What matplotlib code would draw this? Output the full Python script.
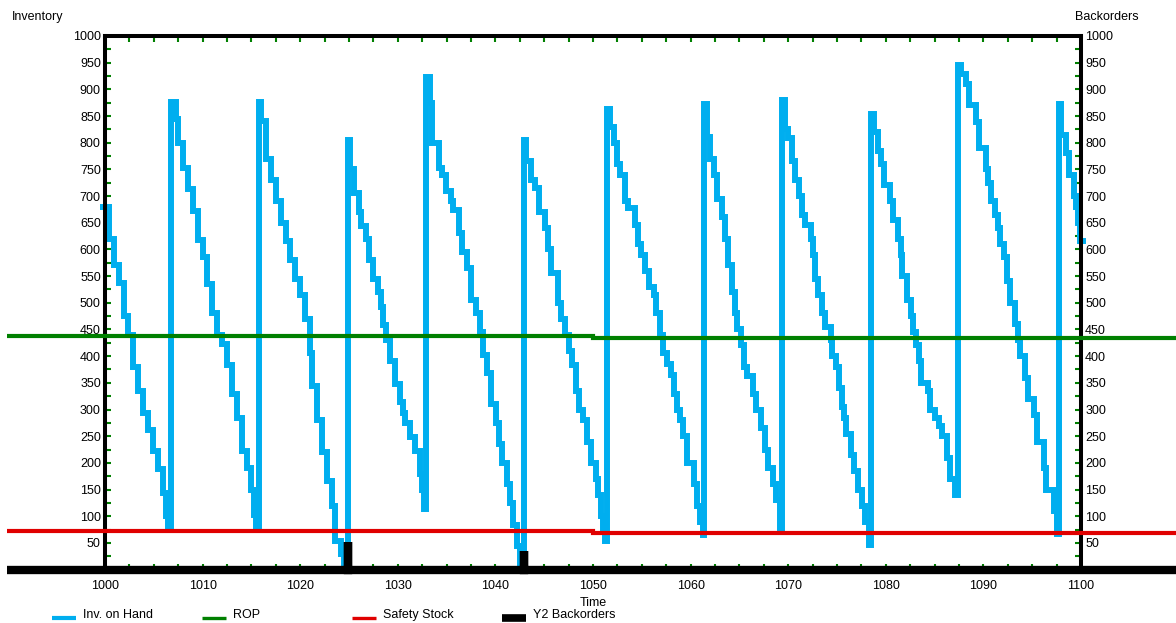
import matplotlib.pyplot as plt
import numpy as np
from matplotlib.lines import Line2D
from matplotlib.ticker import MultipleLocator

#====Data====
inv_time = [999.5, 1000.4, 1000.9, 1001.4, 1001.9, 1002.4, 1002.9, 1003.4, 1003.9, 1004.4, 1004.9, 1005.4, 1005.9, 1006.25, 1006.5,
            1006.75, 1007.25, 1007.5, 1008.0, 1008.5, 1009.0, 1009.5, 1010.0, 1010.5, 1011.0, 1011.5, 1012.0, 1012.5, 1013.0, 1013.5, 1014.0, 1014.5, 1015.0, 1015.25, 1015.5,
            1015.75, 1016.0, 1016.5, 1017.0, 1017.5, 1018.0, 1018.5, 1019.0, 1019.5, 1020.0, 1020.5, 1021.0, 1021.25, 1021.75, 1022.25, 1022.75, 1023.25, 1023.6, 1024.2, 1024.5,
            1024.87, 1025.1, 1025.5, 1026.0, 1026.25, 1026.75, 1027.0, 1027.5, 1028.0, 1028.25, 1028.5, 1028.75, 1029.25, 1029.75, 1030.25, 1030.5, 1030.75, 1031.25, 1031.75, 1032.25, 1032.5, 1032.7,
            1032.85, 1033.25, 1033.5, 1034.2, 1034.5, 1034.9, 1035.4, 1035.7, 1036.3, 1036.6, 1037.1, 1037.5, 1038.05, 1038.4, 1038.7, 1039.1, 1039.5, 1040.1, 1040.4, 1040.7, 1041.2, 1041.5, 1041.8, 1042.25, 1042.5,
            1042.9, 1043.1, 1043.6, 1044.1, 1044.5, 1045.1, 1045.4, 1045.7, 1046.4, 1046.7, 1047.1, 1047.5, 1047.8, 1048.3, 1048.6, 1049.0, 1049.4, 1049.8, 1050.3, 1050.5, 1050.8, 1051.0, 1051.2,
            1051.44, 1051.7, 1052.15, 1052.5, 1052.8, 1053.3, 1053.6, 1054.3, 1054.6, 1054.9, 1055.3, 1055.7, 1056.2, 1056.5, 1056.9, 1057.2, 1057.6, 1058.0, 1058.3, 1058.6, 1058.9, 1059.25, 1059.6, 1060.3, 1060.7, 1061.0, 1061.25,
            1061.41, 1061.7, 1062.0, 1062.4, 1062.75, 1063.2, 1063.5, 1063.8, 1064.2, 1064.5, 1064.8, 1065.2, 1065.5, 1065.8, 1066.4, 1066.75, 1067.2, 1067.6, 1067.9, 1068.4, 1068.75, 1069.2,
            1069.37, 1069.7, 1070.0, 1070.35, 1070.7, 1071.1, 1071.45, 1071.7, 1072.35, 1072.5, 1072.75, 1073.1, 1073.5, 1073.75, 1074.35, 1074.5, 1074.85, 1075.2, 1075.5, 1075.7, 1075.9, 1076.45, 1076.75, 1077.2, 1077.6, 1077.85, 1078.3,
            1078.49, 1078.75, 1079.15, 1079.5, 1079.8, 1080.4, 1080.75, 1081.2, 1081.55, 1081.7, 1082.2, 1082.55, 1082.8, 1083.1, 1083.4, 1083.6, 1084.3, 1084.5, 1085.0, 1085.5, 1085.75, 1086.3, 1086.55, 1087.1,
            1087.4, 1087.7, 1088.2, 1088.5, 1089.2, 1089.6, 1090.3, 1090.5, 1090.8, 1091.2, 1091.5, 1091.75, 1092.15, 1092.4, 1092.75, 1093.2, 1093.5, 1093.8, 1094.3, 1094.6, 1095.15, 1095.5, 1096.2, 1096.45, 1097.2, 1097.5,
            1097.7, 1098.0, 1098.5, 1098.8, 1099.25, 1099.5, 1099.7, 1099.9, 1100.5]
inv_on_hand = [680, 620, 571, 538, 476, 439, 380, 334, 294, 261, 222, 189, 143, 100, 77,
               877, 845, 800, 752, 713, 672, 617, 585, 535, 480, 439, 423, 383, 330, 285, 222, 190, 150, 103, 77,
               877, 840, 770, 730, 690, 650, 615, 580, 545, 515, 470, 406, 345, 281, 220, 166, 120, 54, 30, 0,
               805, 750, 705, 670, 643, 620, 580, 545, 520, 492, 459, 430, 390, 347, 314, 294, 275, 248, 222, 180, 150, 113,
               923, 875, 800, 752, 740, 709, 690, 673, 630, 595, 565, 505, 480, 446, 403, 368, 310, 275, 235, 200, 160, 125, 84, 44, 8,
               805, 765, 730, 715, 670, 640, 600, 555, 500, 470, 440, 410, 383, 335, 300, 280, 240, 200, 170, 140, 100, 77, 54,
               864, 830, 800, 760, 740, 690, 678, 645, 610, 590, 560, 530, 515, 480, 440, 405, 385, 365, 330, 300, 280, 250, 199, 160, 120, 90, 64,
               872, 810, 770, 740, 695, 660, 620, 570, 520, 480, 450, 420, 380, 362, 330, 300, 265, 225, 190, 160, 130, 75,
               880, 826, 808, 765, 730, 700, 665, 645, 620, 590, 545, 515, 480, 455, 430, 400, 380, 340, 305, 285, 255, 215, 185, 150, 120, 90, 47,
               854, 820, 785, 760, 720, 690, 655, 620, 590, 550, 505, 475, 445, 420, 390, 350, 335, 300, 285, 270, 250, 210, 170, 140,
               946, 928, 910, 870, 838, 790, 750, 725, 690, 665, 640, 610, 585, 540, 500, 460, 430, 400, 360, 320, 290, 240, 190, 150, 110, 67,
               872, 815, 780, 740, 700, 680, 650, 615, 615]

rop_time = [990, 1050, 1110]
rop = [438, 434, 434]
safety_time = [990, 1050, 1110]
safety_stock = [72, 68.5, 68.5]

bo_time = [990, 1024.85, 1024.9, 1042.88, 1042.93, 1110]
backorders = [0, 51, 0, 35, 0, 0]

x_ticks = list(range(1000, 1101, 10))
y_ticks = list(range(50, 1001, 50))

legend_labels = ['Inv. on Hand', 'ROP', 'Safety Stock', 'Y2 Backorders']

BLUE = '#00AEEF'
GREEN = '#008000'
RED = '#E00000'

plt.rcParams['font.family'] = ['Liberation Sans', 'DejaVu Sans']
plt.rcParams['font.size'] = 9

W, H = 1176, 623
fig = plt.figure(figsize=(W / 100, H / 100), dpi=100)
ax = fig.add_axes([105 / W, 53.4 / H, 976 / W, 533.6 / H])

line_kw = dict(drawstyle='steps-post', solid_joinstyle='miter', solid_capstyle='butt', clip_on=False)
ax.plot(inv_time, inv_on_hand, color=BLUE, lw=4.3, zorder=2, **line_kw)
ax.plot(rop_time, rop, color=GREEN, lw=3.0, zorder=3, **line_kw)
ax.plot(safety_time, safety_stock, color=RED, lw=3.0, zorder=3, **line_kw)
ax.plot(bo_time, backorders, color='black', lw=6.0, zorder=4, **line_kw)

ax.set_xlim(1000, 1100)
ax.set_ylim(0, 1000)

ax.spines['bottom'].set_visible(False)
for s in ['left', 'right', 'top']:
    ax.spines[s].set_linewidth(2.9)
    ax.spines[s].set_color('black')

ax.set_xticks(x_ticks)
ax.xaxis.set_minor_locator(MultipleLocator(2.5))
ax.set_yticks(y_ticks)
ax.set_yticks(np.arange(25, 1000, 50), minor=True)
ax.tick_params(axis='x', which='both', direction='in', top=True, bottom=True,
               color=GREEN, length=4, width=1.5, pad=7.5, labelsize=9)
ax.tick_params(axis='y', which='both', direction='in', left=True, right=True,
               labelleft=True, labelright=True, color=GREEN, length=4, width=1.5, pad=3, labelsize=9)

fig.text(12 / W, 1 - 17 / H, 'Inventory', ha='left', va='center')
fig.text(1075 / W, 1 - 17 / H, 'Backorders', ha='left', va='center')
fig.text(593 / W, 1 - 603 / H, 'Time', ha='center', va='center')

#====Legend along the bottom====
leg_colors = [BLUE, GREEN, RED, 'black']
leg_widths = [3.0, 2.4, 2.4, 5.5]
for i, (lab, c, lw) in enumerate(zip(legend_labels, leg_colors, leg_widths)):
    x0 = 52 + 150 * i
    fig.add_artist(Line2D([x0 / W, (x0 + 24) / W], [1 - 618 / H, 1 - 618 / H],
                          transform=fig.transFigure, color=c, lw=lw, solid_capstyle='butt'))
    fig.text((x0 + 31) / W, 1 - 615 / H, lab, ha='left', va='center')

fig.savefig('out.png', dpi=100)
